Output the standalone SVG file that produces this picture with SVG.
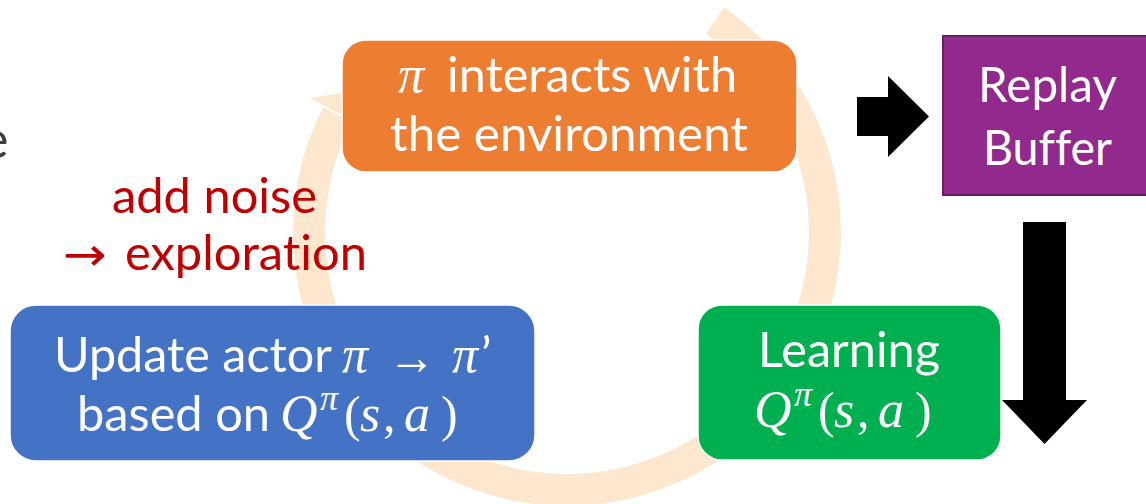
<svg xmlns="http://www.w3.org/2000/svg" width="1146" height="504" viewBox="0 0 1146 504">
<defs>
<style>
text{font-variant-ligatures:none}
.ring{fill:none;stroke:#FDE7CE;stroke-width:32;stroke-linecap:butt}
.head{fill:#FDE7CE}
.blk{fill:#000}
.box{stroke:#fff;stroke-width:1.5}
.t{font-family:Lato,"Open Sans",sans-serif;fill:#fff;font-size:49px}
.m{font-family:"Liberation Serif",serif;font-style:italic;fill:#fff;font-size:52px}
.mr{font-family:"Liberation Serif",serif;fill:#fff;font-size:50px}
.sup{font-family:"Liberation Serif",serif;font-style:italic;fill:#fff;font-size:36px}
.red{font-family:Lato,"Open Sans",sans-serif;fill:#C00000;font-size:48px}
</style>
</defs>
<rect width="1146" height="504" fill="#fff"/>
<text x="-19" y="158" font-family="Lato,sans-serif" font-size="52" fill="#404040">e</text>
<g id="connectors">
<path class="ring" d="M343.6,361 A258,258 0 0 1 337.5,114.5"/>
<polygon class="head" points="309.8,98.1 366.5,127.7 350.6,91.5"/>
<path class="ring" d="M715,20.7 A258,258 0 0 1 806.2,328.6"/>
<polygon class="head" points="835.9,340.6 776.5,316.7 794.8,353.1"/>
<path class="ring" d="M758.7,404.6 A258,258 0 0 1 394.4,423.7"/>
<polygon class="head" points="373,447.5 415.8,399.9 375.3,404.6"/>
<polygon class="blk" points="857,97 888,97 888,76 929,116.5 888,157 888,136 857,136"/>
<polygon class="blk" points="1023,222 1066,222 1066,400 1087,400 1044.5,444 1002,400 1023,400"/>
</g>
<g id="node-interact">
<rect class="box" x="342" y="40" width="455" height="132" rx="24" fill="#ED7D31"/>
<text class="m" x="398" y="92">π</text>
<text class="t" x="447" y="92" textLength="290" lengthAdjust="spacingAndGlyphs">interacts with</text>
<text class="t" x="390" y="151" textLength="358" lengthAdjust="spacingAndGlyphs">the environment</text>
</g>
<g id="node-buffer">
<rect x="943" y="36" width="215" height="159" fill="#912A8C" stroke="#6A1C66" stroke-width="2"/>
<text class="t" x="978" y="102" textLength="139" lengthAdjust="spacingAndGlyphs">Replay</text>
<text class="t" x="983" y="165" textLength="129" lengthAdjust="spacingAndGlyphs">Buffer</text>
</g>
<g id="node-learning">
<rect class="box" x="698" y="305" width="303" height="155" rx="24" fill="#00B050"/>
<text class="t" x="758" y="367" textLength="182" lengthAdjust="spacingAndGlyphs">Learning</text>
<text class="m" x="754" y="427">Q</text>
<text class="sup" x="794" y="406">π</text>
<text class="mr" x="818" y="427">(</text>
<text class="m" x="834" y="427">s</text>
<text class="mr" x="857" y="427">,</text>
<text class="m" x="878" y="427">a</text>
<text class="mr" x="915" y="427">)</text>
</g>
<g id="node-update">
<rect class="box" x="10" y="305" width="525" height="156" rx="26" fill="#4472C4"/>
<text class="t" x="54" y="372" textLength="278" lengthAdjust="spacingAndGlyphs">Update actor</text>
<text class="m" x="342" y="372">π</text>
<text class="mr" x="388" y="374" font-size="62" textLength="48" lengthAdjust="spacingAndGlyphs">→</text>
<text class="m" x="452" y="372">π</text>
<text class="t" x="481" y="372">’</text>
<text class="t" x="77" y="431" textLength="193" lengthAdjust="spacingAndGlyphs">based on</text>
<text class="m" x="280" y="431">Q</text>
<text class="sup" x="320" y="410">π</text>
<text class="mr" x="344" y="431">(</text>
<text class="m" x="360" y="431">s</text>
<text class="mr" x="383" y="431">,</text>
<text class="m" x="404" y="431">a</text>
<text class="mr" x="441" y="431">)</text>
</g>
<g id="label-noise">
<text class="red" x="112" y="213" textLength="205" lengthAdjust="spacingAndGlyphs">add noise</text>
<text x="63" y="270" font-family="'DejaVu Sans',sans-serif" font-size="46" fill="#C00000" textLength="44" lengthAdjust="spacingAndGlyphs">→</text>
<text class="red" x="125" y="270" textLength="242" lengthAdjust="spacingAndGlyphs">exploration</text>
</g>
</svg>
